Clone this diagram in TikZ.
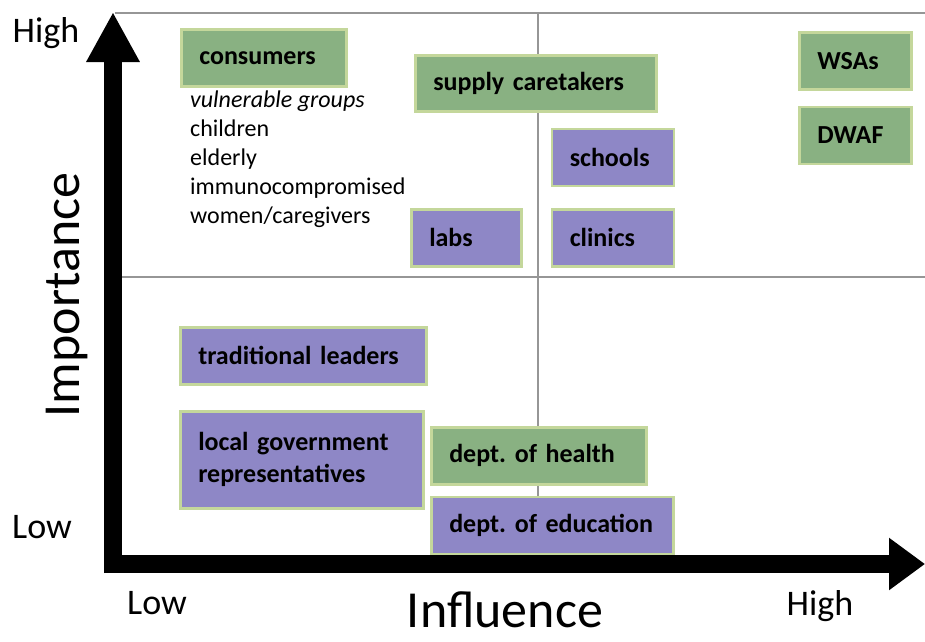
\documentclass[tikz,border=0pt]{standalone}
\usepackage{fontspec}
\setmainfont{Carlito}
\usetikzlibrary{arrows.meta, positioning}

\definecolor{stakegreen}{RGB}{137,177,130}
\definecolor{stakepurple}{RGB}{142,135,198}
\definecolor{stakeedge}{RGB}{196,215,155}
\definecolor{gridgray}{RGB}{150,150,150}

\frenchspacing

\begin{document}
\begin{tikzpicture}[
    x=1pt, y=-1pt,
    stake/.style={rectangle, draw=stakeedge, line width=2.5pt, anchor=north west,
                  inner xsep=18pt, inner ysep=0pt, align=left,
                  minimum height=57pt,
                  font=\bfseries\fontsize{26}{32}\selectfont},
    high/.style={stake, fill=stakegreen},
    low/.style={stake, fill=stakepurple},
    grid/.style={draw=gridgray, line width=2pt},
    axis/.style={line width=18pt, black},
    tick/.style={font=\fontsize{36}{40}\selectfont},
    title/.style={font=\fontsize{52}{60}\selectfont}
]
\useasboundingbox (0,0) rectangle (925,641);

% Quadranten
\draw[grid] (115,13) -- (925,13);
\draw[grid] (538,13) -- (538,556);
\draw[grid] (122,277) -- (925,277);

% Achsen
\coordinate (origin) at (113,573);
\coordinate (ytip) at (113,12);
\coordinate (xstart) at (104,564);
\coordinate (xtip) at (925,564);
\draw[axis, -{Triangle[length=50pt, width=50pt]}] (origin) -- (ytip);
\draw[axis, -{Triangle[length=36pt, width=50pt]}] (xstart) -- (xtip);

% Achsenbeschriftung
\node[tick] (imphigh) at (46,33) {High};
\node[tick] (implow) at (42,527) {Low};
\node[tick] (inflow) at (157,603) {Low};
\node[tick] (infhigh) at (820,606) {High};
\node[title, anchor=base, inner sep=0pt] (infl) at (505,627) {Influence};
\node[title, rotate=90] (imp) at (67,295) {Importance};

% Oben links
\node[high, text width=129pt] (cons) at (180,28) {consumers};
\node[below=3pt of cons.south west, anchor=north west, xshift=10pt,
      inner sep=0pt, align=left, font=\fontsize{24}{29}\selectfont] (groups)
      {\textit{vulnerable groups}\\children\\elderly\\immunocompromised\\women/caregivers};
\node[high, text width=205pt, minimum height=56pt] (supply) at (414,54) {supply caretakers};
\node[low, text width=74pt] (labs) at (410,208) {labs};

% Oben rechts
\node[low, text width=86pt, right=28pt of labs] (clinics) {clinics};
\node[low, text width=86pt, above=21pt of clinics] (schools) {schools};
\node[high, text width=76pt] (wsa) at (798,31) {WSAs};
\node[high, text width=76pt, below=15pt of wsa] (dwaf) {DWAF};

% Unten
\node[low, text width=210pt] (trad) at (179,326) {traditional leaders};
\node[low, text width=207pt, minimum height=97pt] (locgov) at (179,410)
      {local government\\representatives};
\node[high, text width=179pt] (health) at (430,426) {dept. of health};
\node[low, text width=206pt, below=10pt of health.south west, anchor=north west]
      (educ) {dept. of education};

\end{tikzpicture}
\end{document}
